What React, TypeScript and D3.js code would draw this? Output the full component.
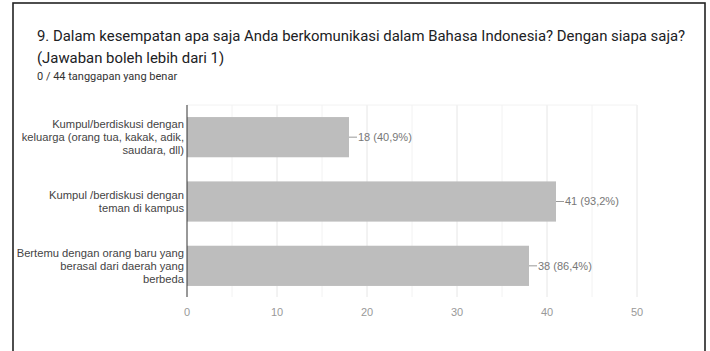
import React from "react";
import * as d3 from "d3";

const categories: string[][] = [
  ["Kumpul/berdiskusi dengan", "keluarga (orang tua, kakak, adik,", "saudara, dll)"],
  ["Kumpul /berdiskusi dengan", "teman di kampus"],
  ["Bertemu dengan orang baru yang", "berasal dari daerah yang", "berbeda"],
];
const values = [18, 41, 38];
const percents = ["40,9%", "93,2%", "86,4%"];
const xTicks = [0, 10, 20, 30, 40, 50];
const minorTicks = [5, 15, 25, 35, 45];
const titleLines = [
  "9.  Dalam kesempatan apa saja Anda berkomunikasi dalam Bahasa Indonesia? Dengan siapa saja?",
  "(Jawaban boleh lebih dari 1)",
];
const subtitle = "0 / 44 tanggapan yang benar";

export default function App() {
  const W = 710, H = 351;
  const x = d3.scaleLinear().domain([0, 50]).range([187, 637]);
  const y = d3
    .scaleBand<number>()
    .domain(values.map((_, i) => i))
    .range([105, 298])
    .paddingInner(0.375)
    .paddingOuter(0.1875);
  const font = "Roboto, Arial, sans-serif";
  const labelFont = "Arial, 'Liberation Sans', sans-serif";
  return (
    <svg
      width={W}
      height={H}
      style={{ position: "absolute", left: 0, top: 0, background: "#fff" }}
    >
      <rect x={13} y={3} width={692} height={H + 10} fill="#fff" stroke="#222" strokeWidth={1.6} />
      {titleLines.map((t, i) => (
        <text key={i} x={37} y={41 + i * 22} fontFamily={font} fontSize={14.9} fill="#202124">
          {t}
        </text>
      ))}
      <text x={37} y={80} fontFamily={font} fontSize={11} fill="#333">
        {subtitle}
      </text>
      {minorTicks.map((t) => (
        <line key={"m" + t} x1={x(t)} x2={x(t)} y1={105} y2={297} stroke="#f2f2f2" strokeWidth={1} />
      ))}
      {xTicks.slice(1).map((t) => (
        <line key={"g" + t} x1={x(t)} x2={x(t)} y1={105} y2={297} stroke="#e6e6e6" strokeWidth={1} />
      ))}
      <line x1={x(0)} x2={x(50)} y1={105} y2={105} stroke="#f2f2f2" />
      {values.map((v, i) => (
        <g key={i}>
          <rect x={x(0)} y={y(i)} width={x(v) - x(0)} height={y.bandwidth()} fill="#bdbdbd" />
          <line
            x1={x(v)}
            x2={x(v) + 8}
            y1={(y(i) as number) + y.bandwidth() / 2}
            y2={(y(i) as number) + y.bandwidth() / 2}
            stroke="#999"
            strokeWidth={1}
          />
          <text
            x={x(v) + 9}
            y={(y(i) as number) + y.bandwidth() / 2}
            dy="0.35em"
            fontFamily={labelFont}
            fontSize={11}
            fill="#777"
          >
            {`${v} (${percents[i]})`}
          </text>
          {categories[i].map((line, j) => (
            <text
              key={j}
              x={184}
              y={(y(i) as number) + y.bandwidth() / 2 + (j - (categories[i].length - 1) / 2) * 13}
              dy="0.35em"
              textAnchor="end"
              fontFamily={labelFont}
              fontSize={11.2}
              fill="#444"
            >
              {line}
            </text>
          ))}
        </g>
      ))}
      <line x1={x(0)} x2={x(0)} y1={105} y2={297} stroke="#333" strokeWidth={1} />
      {xTicks.map((t) => (
        <text
          key={"t" + t}
          x={x(t)}
          y={312}
          dy="0.35em"
          textAnchor="middle"
          fontFamily={labelFont}
          fontSize={11}
          fill="#999"
        >
          {t}
        </text>
      ))}
    </svg>
  );
}
